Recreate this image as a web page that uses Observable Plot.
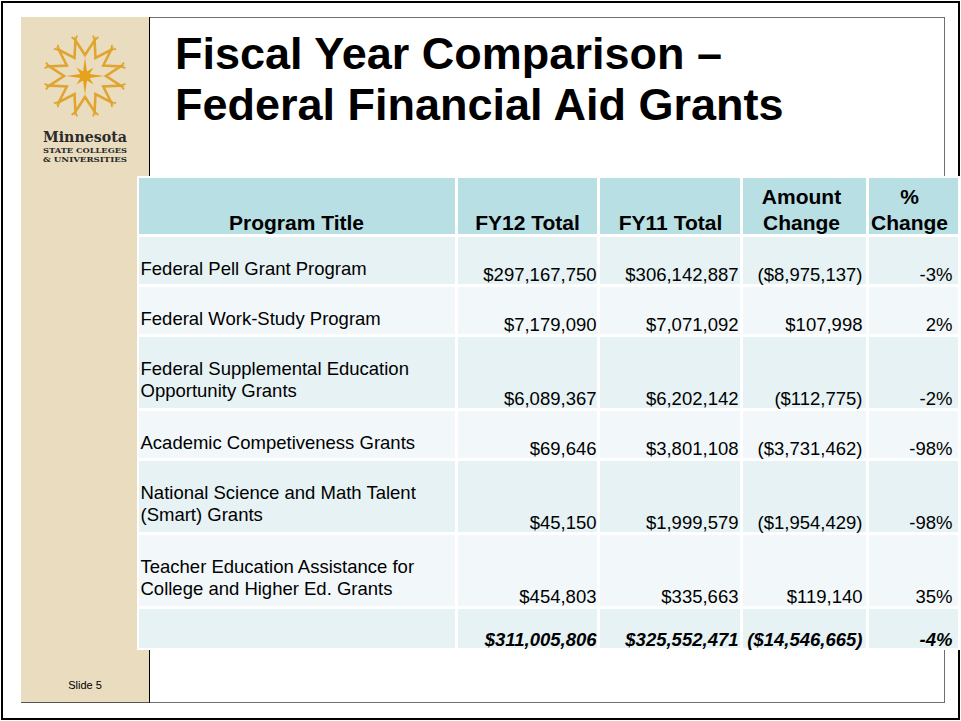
<!DOCTYPE html>
<html>
<head>
<meta charset="utf-8">
<script src="https://cdn.jsdelivr.net/npm/d3@7"></script>
<script src="https://cdn.jsdelivr.net/npm/@observablehq/plot@0.6"></script>
<style>
  html, body { margin: 0; padding: 0; background: #fff; }
  #slide { position: relative; width: 961px; height: 721px; overflow: hidden; font-family: "Liberation Sans", Arial, sans-serif; }
  .abs { position: absolute; box-sizing: border-box; }
  #plot svg { position: absolute; left: 0; top: 0; }
</style>
</head>
<body>
<div id="slide">
  <div class="abs" style="left:1px;top:1px;width:959px;height:719px;border:2px solid #000;"></div>
  <div class="abs" style="left:21px;top:17px;width:924px;height:686px;border:1px solid #6f6f6f;"></div>
  <div class="abs" style="left:21px;top:17px;width:129px;height:686px;background:#EADDBF;border-right:1px solid #000;border-bottom:1px solid #555;"></div>
  <svg class="abs" id="decor" width="961" height="721" style="left:0;top:0;"></svg>
  <div id="plot"></div>
</div>
<script>
// ---------- data ----------
const columns = ["Program Title", "FY12 Total", "FY11 Total", "Amount\nChange", "%\nChange"];
const programs = [
  "Federal Pell Grant Program",
  "Federal Work-Study Program",
  "Federal Supplemental Education\nOpportunity Grants",
  "Academic Competiveness Grants",
  "National Science and Math Talent\n(Smart) Grants",
  "Teacher Education Assistance for\nCollege and Higher Ed. Grants"
];
const fy12 = [297167750, 7179090, 6089367, 69646, 45150, 454803];
const fy11 = [306142887, 7071092, 6202142, 3801108, 1999579, 335663];
const amountChange = [-8975137, 107998, -112775, -3731462, -1954429, 119140];
const pctChange = [-3, 2, -2, -98, -98, 35];
const totalRow = [311005806, 325552471, -14546665, -4];

const slideTitle = ["Fiscal Year Comparison \u2013", "Federal Financial Aid Grants"];
const slideLabel = "Slide 5";
const logoText = ["Minnesota", "STATE COLLEGES", "& UNIVERSITIES"];

// ---------- formatting ----------
const comma = d3.format(",");
const money = v => v < 0 ? `($${comma(-v)})` : `$${comma(v)}`;
const pct = v => `${v}%`;

// ---------- layout (styling) ----------
const colEdges = [[139, 455], [458, 597], [600, 740], [743, 866], [869, 958]];
const headerCx = [296, 527, 670, 801, 909];
const numRight = [596, 738, 862, 952];
const header = {y1: 178, y2: 234};
let yCur = 237;
const rows = programs.map((p, i) => {
  const n = p.split("\n").length;
  const h = n > 1 ? 71 : 47;
  const r = {i, y1: yCur, y2: yCur + h};
  yCur += h + 3;
  return r;
});
const totalBand = {i: rows.length, y1: yCur, y2: yCur + 39};

const tableBg = [{x1: 137, x2: 960, y1: header.y1 - 2, y2: totalBand.y2 + 2}];
const cells = [];
colEdges.forEach(([x1, x2], c) => {
  cells.push({x1, x2, y1: header.y1, y2: header.y2, fill: "#B8DFE3"});
  [...rows, totalBand].forEach(r => {
    cells.push({x1, x2, y1: r.y1, y2: r.y2, fill: r.i % 2 === 0 ? "#E6F2F4" : "#F2F8FA"});
  });
});

const headerText = [];
columns.forEach((t, c) => {
  const lines = t.split("\n");
  lines.forEach((l, j) => headerText.push({x: headerCx[c], y: header.y2 - 11 - (lines.length - 1 - j) * 26, text: l}));
});

const titleText = [];
programs.forEach((p, i) => {
  p.split("\n").forEach((l, j) => titleText.push({x: 140, y: rows[i].y1 + 32 + j * 22, text: l}));
});

const numText = [];
programs.forEach((p, i) => {
  const vals = [money(fy12[i]), money(fy11[i]), money(amountChange[i]), pct(pctChange[i])];
  vals.forEach((v, c) => numText.push({x: numRight[c], y: rows[i].y2 - 9, text: v}));
});
const totalText = [money(totalRow[0]), money(totalRow[1]), money(totalRow[2]), pct(totalRow[3])]
  .map((v, c) => ({x: numRight[c], y: totalBand.y2 - 8, text: v}));

const font = "Liberation Sans, Arial, sans-serif";
const chart = Plot.plot({
  width: 961,
  height: 721,
  margin: 0,
  x: {type: "identity", axis: null},
  y: {type: "identity", axis: null},
  style: {background: "transparent", fontFamily: font},
  marks: [
    Plot.rect(tableBg, {x1: "x1", x2: "x2", y1: "y1", y2: "y2", fill: "#fff"}),
    Plot.rect(cells, {x1: "x1", x2: "x2", y1: "y1", y2: "y2", fill: d => d.fill}),
    Plot.text(headerText, {x: "x", y: "y", text: "text", textAnchor: "middle", fontSize: 21, fontWeight: "bold", fill: "#000"}),
    Plot.text(titleText, {x: "x", y: "y", text: "text", textAnchor: "start", fontSize: 18.5, fill: "#000"}),
    Plot.text(numText, {x: "x", y: "y", text: "text", textAnchor: "end", fontSize: 18.5, fill: "#000"}),
    Plot.text(totalText, {x: "x", y: "y", text: "text", textAnchor: "end", fontSize: 18.5, fontWeight: "bold", fontStyle: "italic", fill: "#000"})
  ]
});
document.getElementById("plot").appendChild(chart);

// ---------- decorations: logo, slide title, slide number ----------
const decor = d3.select("#decor");
const cx = 85, cy = 76, gold = "#E0A530";
// outer zigzag ring with forked tips
const nPeaks = 12, rOut = 37, rIn = 21;
const zig = [];
for (let k = 0; k < nPeaks * 2; k++) {
  const a = (k / (nPeaks * 2)) * 2 * Math.PI - Math.PI / 2;
  const r = k % 2 === 1 ? rOut : rIn;
  zig.push([cx + r * Math.cos(a), cy + r * Math.sin(a)]);
}
decor.append("path").attr("d", "M" + zig.map(p => p.join(",")).join("L") + "Z")
  .attr("fill", "none").attr("stroke", gold).attr("stroke-width", 2.6).attr("stroke-linejoin", "miter");
for (let k = 0; k < nPeaks; k++) {
  const a = ((2 * k + 1) / (nPeaks * 2)) * 2 * Math.PI - Math.PI / 2;
  const px = cx + rOut * Math.cos(a), py = cy + rOut * Math.sin(a);
  [-1, 1].forEach(s => {
    const b = a + s * 0.6;
    decor.append("line").attr("x1", px).attr("y1", py)
      .attr("x2", px + 5 * Math.cos(b)).attr("y2", py + 5 * Math.sin(b))
      .attr("stroke", gold).attr("stroke-width", 1.8);
  });
}
// inner star
const star = [];
for (let k = 0; k < 16; k++) {
  const a = (k / 16) * 2 * Math.PI - Math.PI / 2;
  const r = k % 2 === 1 ? 5 : (k % 4 === 0 ? 19 : 12);
  star.push([cx + r * Math.cos(a), cy + r * Math.sin(a)]);
}
decor.append("path").attr("d", "M" + star.map(p => p.join(",")).join("L") + "Z").attr("fill", "#E3A11C");

decor.append("text").attr("x", 43).attr("y", 142).attr("textLength", 84).attr("lengthAdjust", "spacingAndGlyphs")
  .attr("font-family", "DejaVu Serif, serif").attr("font-weight", "bold").attr("font-size", 14).attr("fill", "#2b2b2b").text(logoText[0]);
decor.append("text").attr("x", 43).attr("y", 153).attr("textLength", 84).attr("lengthAdjust", "spacingAndGlyphs")
  .attr("font-family", "DejaVu Serif, serif").attr("font-weight", "bold").attr("font-size", 8).attr("fill", "#2b2b2b").text(logoText[1]);
decor.append("text").attr("x", 43).attr("y", 162).attr("textLength", 84).attr("lengthAdjust", "spacingAndGlyphs")
  .attr("font-family", "DejaVu Serif, serif").attr("font-weight", "bold").attr("font-size", 8).attr("fill", "#2b2b2b").text(logoText[2]);

slideTitle.forEach((t, j) => {
  decor.append("text").attr("x", 175).attr("y", 69 + j * 51)
    .attr("font-family", font).attr("font-weight", "bold").attr("font-size", 45).attr("fill", "#000").text(t);
});
decor.append("text").attr("x", 85).attr("y", 689).attr("text-anchor", "middle")
  .attr("font-family", font).attr("font-size", 11).attr("fill", "#000").text(slideLabel);
</script>
</body>
</html>
